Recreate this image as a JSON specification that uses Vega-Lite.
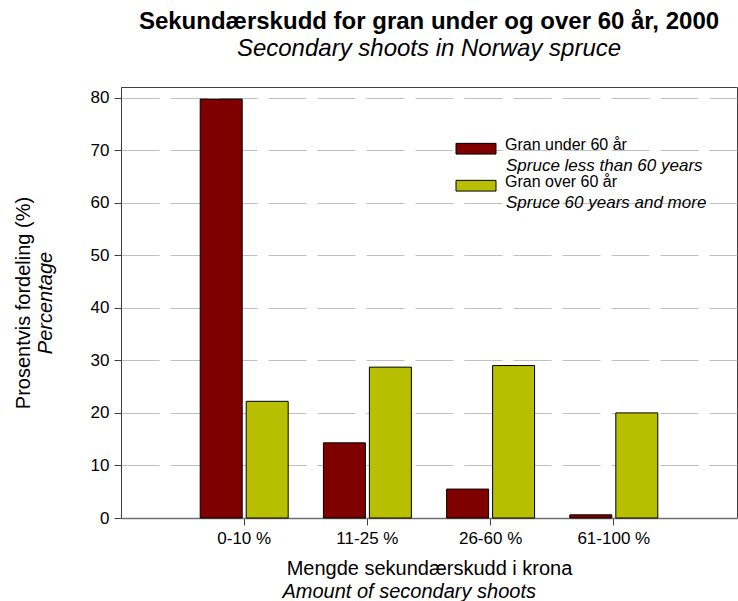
{
  "$schema": "https://vega.github.io/schema/vega-lite/v6.json",
  "width": 616,
  "height": 431,
  "autosize": {"type": "none"},
  "padding": {"left": 121, "top": 87, "right": 1, "bottom": 83},
  "background": "white",
  "title": {
    "text": "Sekundærskudd for gran under og over 60 år, 2000",
    "subtitle": "Secondary shoots in Norway spruce",
    "font": "Liberation Sans",
    "fontSize": 24,
    "fontWeight": "bold",
    "color": "black",
    "subtitleFont": "Liberation Sans",
    "subtitleFontSize": 24,
    "subtitleFontStyle": "italic",
    "subtitleColor": "black",
    "subtitlePadding": 3,
    "anchor": "middle",
    "frame": "group",
    "offset": 26
  },
  "data": {
    "values": [
      {"kat": "0-10 %", "no": "Gran under 60 år", "en": "Spruce less than 60 years", "verdi": 79.7},
      {"kat": "11-25 %", "no": "Gran under 60 år", "en": "Spruce less than 60 years", "verdi": 14.3},
      {"kat": "26-60 %", "no": "Gran under 60 år", "en": "Spruce less than 60 years", "verdi": 5.5},
      {"kat": "61-100 %", "no": "Gran under 60 år", "en": "Spruce less than 60 years", "verdi": 0.6},
      {"kat": "0-10 %", "no": "Gran over 60 år", "en": "Spruce 60 years and more", "verdi": 22.2},
      {"kat": "11-25 %", "no": "Gran over 60 år", "en": "Spruce 60 years and more", "verdi": 28.7},
      {"kat": "26-60 %", "no": "Gran over 60 år", "en": "Spruce 60 years and more", "verdi": 29.0},
      {"kat": "61-100 %", "no": "Gran over 60 år", "en": "Spruce 60 years and more", "verdi": 20.0}
    ]
  },
  "layer": [
    {
      "mark": {"type": "bar", "stroke": "black", "strokeWidth": 1},
      "encoding": {
        "x": {
          "field": "kat", "type": "nominal", "sort": ["0-10 %", "11-25 %", "26-60 %", "61-100 %"],
          "scale": {"type": "band", "paddingInner": 0, "paddingOuter": 0.5},
          "axis": {
            "orient": "bottom", "labelAngle": 0, "labelFontSize": 17, "labelPadding": 5,
            "tickSize": 7, "tickColor": "#404040", "domainColor": "#707070", "domainWidth": 1.5,
            "grid": false,
            "title": "Mengde sekundærskudd i krona", "titleFontSize": 20, "titleFontWeight": "normal",
            "titleX": 308, "titleY": 50, "titleAlign": "center", "titleBaseline": "middle"
          }
        },
        "xOffset": {
          "field": "no", "type": "nominal",
          "scale": {"domain": ["Gran under 60 år", "Gran over 60 år"], "paddingInner": 0.087, "paddingOuter": 0.383}
        },
        "y": {
          "field": "verdi", "type": "quantitative",
          "scale": {"domain": [0, 82], "nice": false},
          "axis": {
            "orient": "left", "values": [0, 10, 20, 30, 40, 50, 60, 70, 80], "labelFontSize": 17, "labelPadding": 5,
            "tickSize": 7, "tickColor": "#404040", "domainColor": "#404040",
            "grid": true, "gridColor": "#c0c0c0", "gridDash": [38, 11], "gridWidth": 1,
            "title": "Percentage", "titleFontSize": 20, "titleFontWeight": "normal", "titleFontStyle": "italic",
            "titleX": -76, "titleY": 215.5, "titleAngle": -90, "titleAlign": "center", "titleBaseline": "middle"
          }
        },
        "color": {
          "field": "no", "type": "nominal",
          "scale": {"domain": ["Gran under 60 år", "Gran over 60 år"], "range": ["#800000", "#b8bf00"]},
          "legend": {
            "orient": "none", "legendX": 347, "legendY": 50, "title": null,
            "symbolType": "M-3.636,-0.3H3.636V1.65H-3.636Z", "symbolSize": 121,
            "symbolStrokeColor": "black", "symbolStrokeWidth": 1,
            "labelOffset": 21, "rowPadding": 17, "labelFontSize": 16
          }
        },
        "opacity": {
          "field": "en", "type": "nominal",
          "scale": {"domain": ["Spruce less than 60 years", "Spruce 60 years and more"], "range": [1, 1]},
          "legend": {
            "orient": "none", "legendX": 368, "legendY": 70, "title": null,
            "symbolSize": 0, "symbolOpacity": 0, "symbolStrokeWidth": 0,
            "labelOffset": 0, "rowPadding": 19, "labelFontSize": 17, "labelFontStyle": "italic"
          }
        }
      }
    },
    {
      "mark": {"type": "point", "opacity": 0},
      "encoding": {
        "x": {
          "field": "kat", "type": "nominal", "sort": ["0-10 %", "11-25 %", "26-60 %", "61-100 %"],
          "scale": {"type": "band", "paddingInner": 0, "paddingOuter": 0.5},
          "axis": {
            "orient": "bottom", "labels": false, "ticks": false, "domain": false, "grid": false,
            "title": "Amount of secondary shoots", "titleFontSize": 20, "titleFontWeight": "normal", "titleFontStyle": "italic",
            "titleX": 161, "titleY": 73, "titleAlign": "left", "titleBaseline": "middle"
          }
        },
        "y": {
          "field": "verdi", "type": "quantitative",
          "scale": {"domain": [0, 82], "nice": false},
          "axis": {
            "orient": "left", "labels": false, "ticks": false, "domain": false, "grid": false,
            "title": "Prosentvis fordeling (%)", "titleFontSize": 20, "titleFontWeight": "normal",
            "titleX": -98, "titleY": 215.5, "titleAngle": -90, "titleAlign": "center", "titleBaseline": "middle"
          }
        }
      }
    }
  ],
  "resolve": {"axis": {"x": "independent", "y": "independent"}},
  "config": {
    "font": "Liberation Sans",
    "view": {"stroke": "#404040", "strokeWidth": 1},
    "axis": {"labelColor": "black", "titleColor": "black", "labelFont": "Liberation Sans", "titleFont": "Liberation Sans"},
    "legend": {"padding": 0, "labelFont": "Liberation Sans", "labelColor": "black", "labelLimit": 400}
  }
}
